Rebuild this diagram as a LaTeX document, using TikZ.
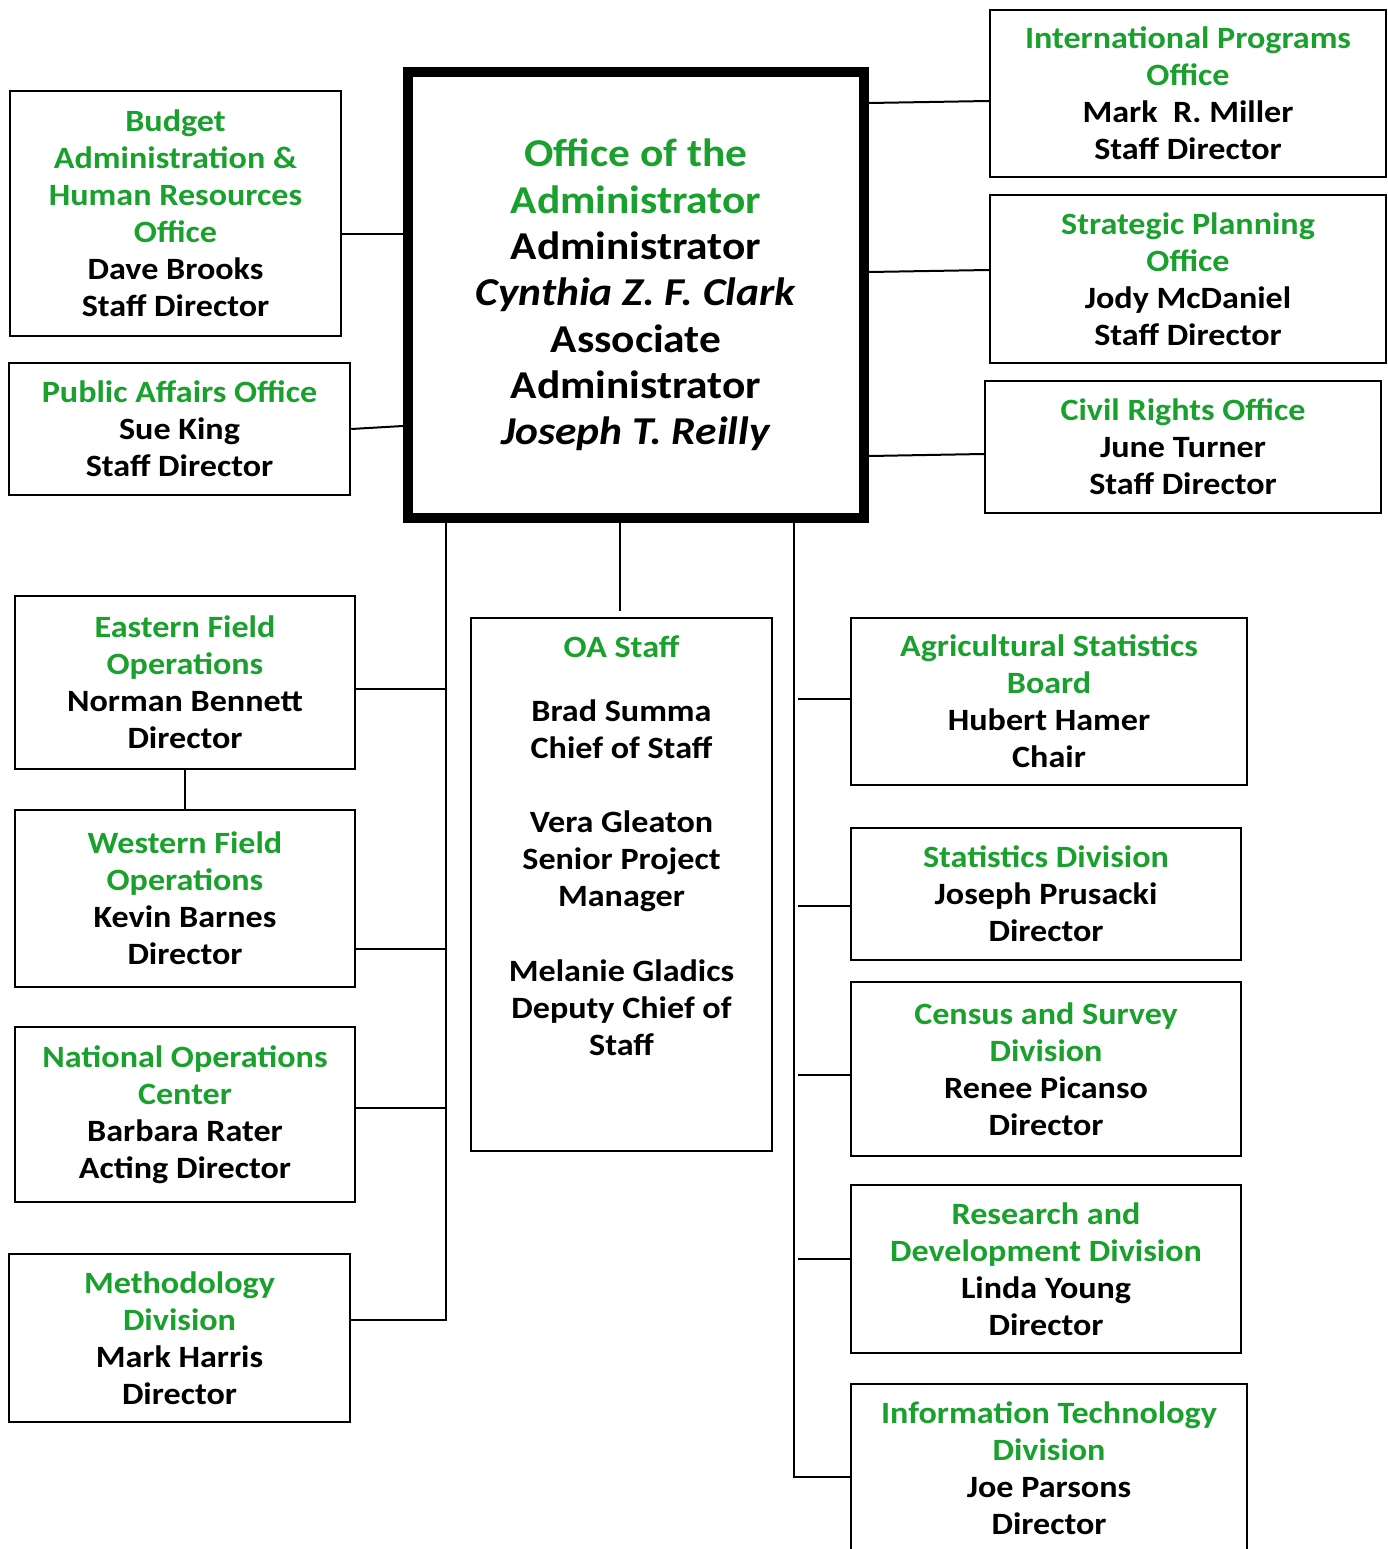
\documentclass[tikz,border=0pt]{standalone}
\usepackage{fontspec}
\setmainfont{Carlito}[FakeStretch=1.1]
\usepackage{xcolor}
\usetikzlibrary{positioning}
\definecolor{verdeorg}{RGB}{25,160,45}
\newcommand{\nombreunidad}[1]{\textcolor{verdeorg}{#1}}

\begin{document}
\begin{tikzpicture}[x=1pt,y=-1pt,
    unidad/.style={draw, line width=2.5pt, align=center, inner sep=0pt,
      font=\bfseries\fontsize{31}{37}\selectfont},
    enlace/.style={line width=2pt}]
\useasboundingbox (0,0) rectangle (1388,1549);

% Oficina central
\node[unidad, line width=10pt, minimum width=456pt, minimum height=446pt,
  font=\bfseries\fontsize{39.5}{46.3}\selectfont] (admin) at (636,295)
  {\nombreunidad{Office of the}\\\nombreunidad{Administrator}\\Administrator\\\textit{Cynthia Z. F. Clark}\\Associate\\Administrator\\\textit{Joseph T. Reilly}};

% Columna izquierda
\node[unidad, minimum width=331pt, minimum height=245pt] (presupuesto) at (175.5,213.5)
  {\nombreunidad{Budget}\\\nombreunidad{Administration \&}\\\nombreunidad{Human Resources}\\\nombreunidad{Office}\\Dave Brooks\\Staff Director};
\node[unidad, minimum width=341pt, minimum height=132pt] (publicos) at (179.5,429)
  {\nombreunidad{Public Affairs Office}\\Sue King\\Staff Director};
\node[unidad, minimum width=340pt, minimum height=173pt] (oriental) at (185,682.5)
  {\nombreunidad{Eastern Field}\\\nombreunidad{Operations}\\Norman Bennett\\Director};
\node[unidad, minimum width=340pt, minimum height=177pt] (occidental) at (185,898.5)
  {\nombreunidad{Western Field}\\\nombreunidad{Operations}\\Kevin Barnes\\Director};
\node[unidad, minimum width=340pt, minimum height=175pt] (nacional) at (185,1114.5)
  {\nombreunidad{National Operations}\\\nombreunidad{Center}\\Barbara Rater\\Acting Director};
\node[unidad, minimum width=341pt, minimum height=168pt] (metodo) at (179.5,1338)
  {\nombreunidad{Methodology}\\\nombreunidad{Division}\\Mark Harris\\Director};

% Personal de la oficina
\node[unidad, minimum width=301pt, minimum height=533pt] (personal) at (621.5,884.5) {};
\node[align=center, inner sep=0pt, font=\bfseries\fontsize{31}{37}\selectfont] (personaltxt) at (621.5,845.5)
  {\nombreunidad{OA Staff}\\[27pt]Brad Summa\\Chief of Staff\\[37pt]Vera Gleaton\\Senior Project\\Manager\\[38pt]Melanie Gladics\\Deputy Chief of\\Staff};

% Columna derecha
\node[unidad, minimum width=396pt, minimum height=167pt] (internacional) at (1188,93.5)
  {\nombreunidad{International Programs}\\\nombreunidad{Office}\\Mark~~R. Miller\\Staff Director};
\node[unidad, minimum width=396pt, minimum height=168pt] (estrategia) at (1188,279)
  {\nombreunidad{Strategic Planning}\\\nombreunidad{Office}\\Jody McDaniel\\Staff Director};
\node[unidad, minimum width=396pt, minimum height=132pt] (derechos) at (1183,447)
  {\nombreunidad{Civil Rights Office}\\June Turner\\Staff Director};
\node[unidad, minimum width=396pt, minimum height=167pt] (junta) at (1049,701.5)
  {\nombreunidad{Agricultural Statistics}\\\nombreunidad{Board}\\Hubert Hamer\\Chair};
\node[unidad, minimum width=390pt, minimum height=132pt] (estadistica) at (1046,894)
  {\nombreunidad{Statistics Division}\\Joseph Prusacki\\Director};
\node[unidad, minimum width=390pt, minimum height=174pt] (censo) at (1046,1069)
  {\nombreunidad{Census and Survey}\\\nombreunidad{Division}\\Renee Picanso\\Director};
\node[unidad, minimum width=390pt, minimum height=168pt] (investigacion) at (1046,1269)
  {\nombreunidad{Research and}\\\nombreunidad{Development Division}\\Linda Young\\Director};
\node[unidad, minimum width=396pt, minimum height=169pt] (informatica) at (1049,1468.5)
  {\nombreunidad{Information Technology}\\\nombreunidad{Division}\\Joe Parsons\\Director};

% Troncos y ramas
\coordinate (troncoI) at (446,0);
\coordinate (troncoD) at (794,0);
\coordinate (ramaD) at (798,0);
\coordinate (finpersonal) at (620,611);

\draw[enlace] (presupuesto.east |- 0,234) -- (admin.west |- 0,234);
\draw[enlace] (publicos.east |- 0,429) -- (admin.west |- 0,426);
\draw[enlace] (admin.east |- 0,103) -- (internacional.west |- 0,101);
\draw[enlace] (admin.east |- 0,272) -- (estrategia.west |- 0,270);
\draw[enlace] (admin.east |- 0,456) -- (derechos.west |- 0,454);

\draw[enlace] (admin.south -| troncoI) -- (troncoI |- 0,1320) -- (metodo.east |- 0,1320);
\draw[enlace] (oriental.east |- 0,689) -- (troncoI |- 0,689);
\draw[enlace] (occidental.east |- 0,949) -- (troncoI |- 0,949);
\draw[enlace] (nacional.east |- 0,1108) -- (troncoI |- 0,1108);
\draw[enlace] (oriental.south) -- (occidental.north);

\draw[enlace] (admin.south -| finpersonal) -- (finpersonal);

\draw[enlace] (admin.south -| troncoD) -- (troncoD |- 0,1477) -- (informatica.west |- 0,1477);
\draw[enlace] (ramaD |- 0,699) -- (junta.west |- 0,699);
\draw[enlace] (ramaD |- 0,906) -- (estadistica.west |- 0,906);
\draw[enlace] (ramaD |- 0,1075) -- (censo.west |- 0,1075);
\draw[enlace] (ramaD |- 0,1259) -- (investigacion.west |- 0,1259);
\end{tikzpicture}
\end{document}
